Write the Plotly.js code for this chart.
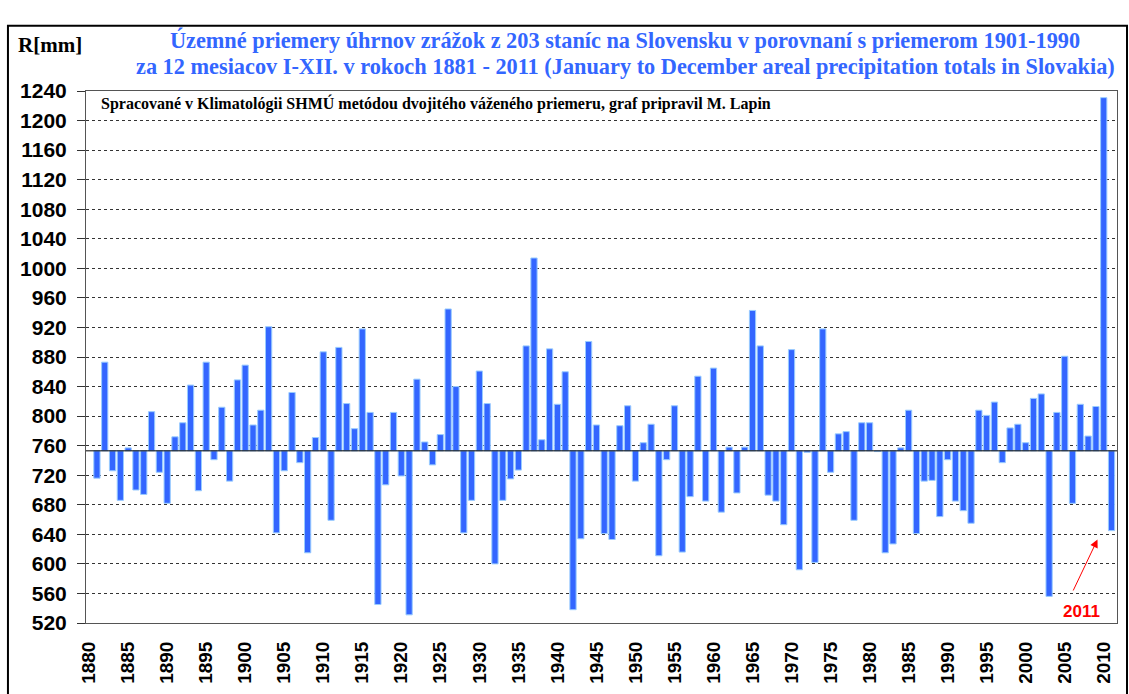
<!DOCTYPE html>
<html><head><meta charset="utf-8">
<script src="https://cdn.plot.ly/plotly-3.0.1.min.js"></script>
<style>body{margin:0;background:#fff}#chart{width:1129px;height:694px}</style>
</head><body><div id="chart"></div>
<script>
// Mean 1901-1990 (baseline of bars), mm
const BASE = 753;
const firstYear = 1881;
// Annual areal precipitation totals, mm (1881..2011)
const precipitation = [
  716, 873, 726, 686, 757, 700, 694, 806, 724, 682,   // 1881-1890
  772, 791, 842, 699, 873, 741, 812, 712, 849, 869,   // 1891-1900
  788, 808, 921, 642, 726, 832, 737, 615, 771, 887,   // 1901-1910
  659, 893, 817, 783, 918, 805, 545, 707, 805, 719,   // 1911-1920
  531, 850, 765, 734, 775, 945, 840, 642, 686, 861,   // 1921-1930
  817, 600, 686, 715, 727, 895, 1014, 768, 891, 816,  // 1931-1940
  860, 538, 634, 901, 788, 641, 633, 787, 814, 712,   // 1941-1950
  764, 789, 611, 741, 814, 616, 691, 854, 685, 865,   // 1951-1960
  670, 758, 696, 758, 943, 895, 693, 685, 653, 890,   // 1961-1970
  592, 751, 602, 918, 724, 776, 779, 659, 791, 791,   // 1971-1980
  752, 615, 627, 757, 808, 641, 712, 713, 664, 741,   // 1981-1990
  685, 672, 655, 808, 801, 819, 737, 784, 789, 764,   // 1991-2000
  824, 830, 556, 805, 881, 682, 816, 773, 813, 1231,  // 2001-2010
  645                                                 // 2011
];
const years = precipitation.map((_, i) => firstYear + i);

const titleLine1 = 'Územné priemery úhrnov zrážok z 203 staníc na Slovensku v porovnaní s priemerom 1901-1990';
const titleLine2 = 'za 12 mesiacov I-XII. v rokoch 1881 - 2011 (January to December areal precipitation totals in Slovakia)';
const yUnit = 'R[mm]';
const note = 'Spracované v Klimatológii SHMÚ metódou dvojitého váženého priemeru, graf pripravil M. Lapin';
const markLabel = '2011';

const trace = {
  type: 'bar',
  x: years,
  y: precipitation.map(v => v - BASE),
  base: BASE,
  marker: { color: '#3366FF', line: { color: '#99CCFF', width: 1 } },
  hoverinfo: 'x+text',
  text: precipitation.map(String),
  textposition: 'none'
};

const sans = 'Arial, "Liberation Sans", sans-serif';
const serif = '"Times New Roman", "Liberation Serif", serif';
const titleFont = { family: serif, size: 22.3, weight: 'bold', color: '#3366FF' };

const layout = {
  width: 1129, height: 694,
  margin: { l: 86, r: 12, t: 91, b: 71 },
  paper_bgcolor: '#ffffff', plot_bgcolor: '#ffffff',
  showlegend: false,
  bargap: 0.2,
  title: {
    text: titleLine1,
    font: titleFont,
    xref: 'paper', x: 0.5228, xanchor: 'center',
    yref: 'container', y: 1 - 40 / 694, yanchor: 'middle'
  },
  xaxis: {
    range: [1879.6, 2011.7],
    tickmode: 'linear', tick0: 1880, dtick: 5,
    tickangle: -90,
    tickfont: { family: sans, size: 19, weight: 'bold', color: '#000' },
    ticks: '', ticklabelstandoff: 10,
    showgrid: false, zeroline: false,
    showline: true, linecolor: '#555', linewidth: 1, mirror: true
  },
  yaxis: {
    range: [520, 1240],
    tickmode: 'linear', tick0: 520, dtick: 40,
    tickfont: { family: sans, size: 21, weight: 'bold', color: '#000' },
    ticks: 'outside', ticklen: 8, tickcolor: '#333', tickwidth: 1,
    ticklabelstandoff: 6,
    showgrid: true, gridcolor: '#333', gridwidth: 1, griddash: '3px,3px',
    zeroline: false,
    showline: true, linecolor: '#555', linewidth: 1, mirror: true
  },
  shapes: [
    { type: 'line', xref: 'paper', x0: 0, x1: 1, yref: 'y', y0: BASE, y1: BASE,
      line: { color: '#000', width: 1 }, layer: 'above' },
    { type: 'rect', xref: 'paper', yref: 'paper', x0: -0.0757, x1: 1.0097, y0: -0.2, y1: 1.1226,
      line: { color: '#000', width: 2 }, fillcolor: 'rgba(0,0,0,0)', layer: 'below' }
  ],
  annotations: [
    { text: titleLine2, xref: 'paper', yref: 'paper', x: 0.5228, y: (623 - 67) / 532,
      xanchor: 'center', yanchor: 'middle', showarrow: false, font: titleFont },
    { text: yUnit, xref: 'paper', yref: 'paper', x: -0.0349, y: 1.0868,
      xanchor: 'center', yanchor: 'middle', showarrow: false,
      font: { family: serif, size: 21, weight: 'bold', color: '#000' } },
    { text: note, xref: 'paper', yref: 'paper', x: 0.0126, y: 0.976,
      xanchor: 'left', yanchor: 'middle', showarrow: false,
      font: { family: serif, size: 16, weight: 'bold', color: '#000' } },
    { text: '', x: 2009.2, y: 633, xref: 'x', yref: 'y',
      ax: 2006, ay: 562, axref: 'x', ayref: 'y',
      showarrow: true, arrowhead: 2, arrowsize: 1.6, arrowwidth: 1, arrowcolor: '#FF0000' },
    { text: markLabel, x: 2007.1, y: 535, xref: 'x', yref: 'y', showarrow: false,
      xanchor: 'center', yanchor: 'middle',
      font: { family: sans, size: 17, weight: 'bold', color: '#FF0000' } }
  ]
};

Plotly.newPlot('chart', [trace], layout, { displayModeBar: false, staticPlot: true });
</script>
</body></html>
